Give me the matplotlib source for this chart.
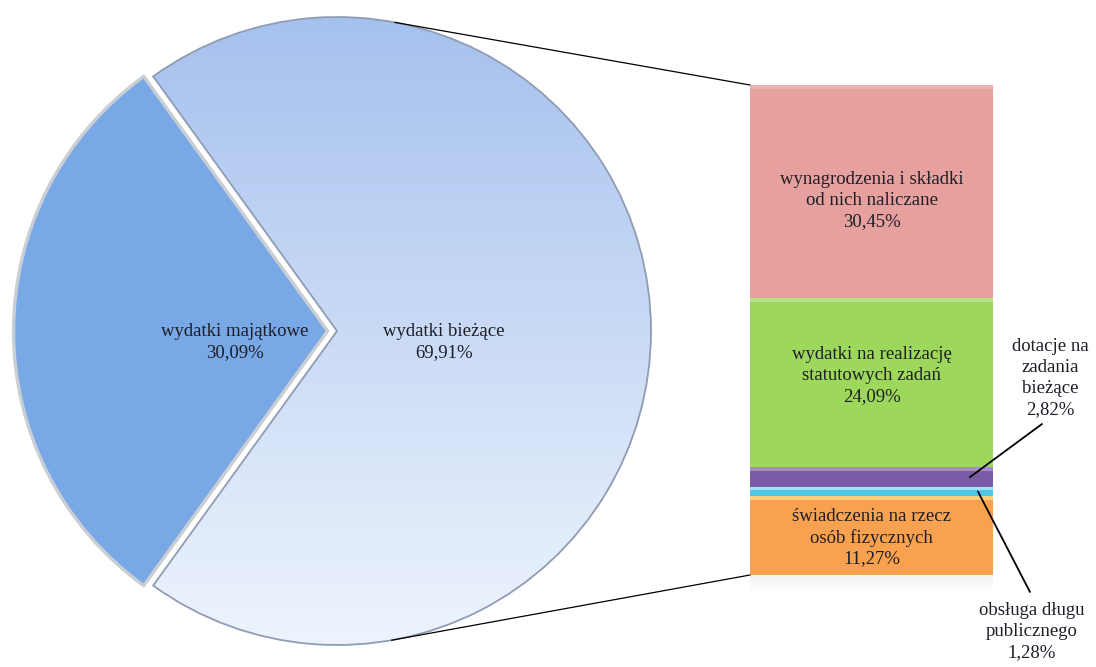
import matplotlib.pyplot as plt
import numpy as np
from matplotlib.colors import to_rgb
from matplotlib.patches import ConnectionPatch

plt.rcParams['font.family'] = ['Liberation Serif', 'DejaVu Serif']

# pie data
pie_labels = ["wydatki majątkowe", "wydatki bieżące"]
pie_values = [30.09, 69.91]

# bar (breakdown of "wydatki bieżące"), bottom to top
bar_labels = ["świadczenia na rzecz\nosób fizycznych",
              "obsługa długu\npublicznego",
              "dotacje na\nzadania\nbieżące",
              "wydatki na realizację\nstatutowych zadań",
              "wynagrodzenia i składki\nod nich naliczane"]
bar_values = [11.27, 1.28, 2.82, 24.09, 30.45]
bar_colors = ["#f8a24f", "#4fc6e6", "#7b5ba8", "#9dd85c", "#e6a19f"]
bevel_colors = ["#fbcf7c", "#9fe3f4", "#a68ad0", "#b5e283", "#eab2b0"]


def pct(v):
    return f"{v:.2f}%".replace(".", ",")


W, H = 1096, 667
fig = plt.figure(figsize=(W / 100, H / 100), dpi=100)
txt_color = "#1e1e28"
fs = 13.5
ls = 1.3

# ---- pie ----
cx, cy, r, half = 337, 331, 314, 330
ax = fig.add_axes([(cx - half) / W, (H - cy - half) / H, 2 * half / W, 2 * half / H])
start = 180 - pie_values[0] / 100 * 180
wedges, _ = ax.pie(pie_values, radius=1, startangle=start, explode=[0.03, 0],
                   colors=["#78a8e6", "#c3d6f5"],
                   wedgeprops=dict(edgecolor="#c9cdd4", linewidth=2.4))
wedges[1].set_edgecolor("#8f9cb3")
wedges[1].set_linewidth(1.3)

# vertical gradient for the big slice
top = np.array(to_rgb("#a6c1ee"))
bot = np.array(to_rgb("#eef4fd"))
t = np.linspace(0, 1, 256)[:, None, None]
grad = top * (1 - t) + bot * t
img = ax.imshow(grad, extent=(-1, 1, -1, 1), origin="upper", aspect="auto", zorder=1.5)
img.set_clip_path(wedges[1])
wedges[1].set_facecolor("none")
wedges[1].set_zorder(2)

lim = half / r
ax.set_xlim(-lim, lim)
ax.set_ylim(-lim, lim)
ax.set_aspect("equal")
ax.axis("off")

ax.text(-0.325, -0.035, pie_labels[0] + "\n" + pct(pie_values[0]), ha="center", va="center",
        fontsize=fs, color=txt_color, linespacing=ls, zorder=5)
ax.text(0.34, -0.035, pie_labels[1] + "\n" + pct(pie_values[1]), ha="center", va="center",
        fontsize=fs, color=txt_color, linespacing=ls, zorder=5)

# ---- stacked bar ----
total = sum(bar_values)
bx0, bx1, by0, by1 = 750, 993, 85, 575
px = total / (by1 - by0)
axb = fig.add_axes([bx0 / W, (H - by1) / H, (bx1 - bx0) / W, (by1 - by0) / H])
bottoms = np.concatenate([[0], np.cumsum(bar_values)[:-1]])

# soft shadow under the bar
for k in range(6):
    axb.bar(0.5, 2.5 * px, width=1.0, bottom=-(k + 1) * 2.5 * px, color="#808080",
            alpha=0.10 * (6 - k) / 6, edgecolor="none", clip_on=False)

axb.bar(0.5, bar_values, width=1, bottom=bottoms, color=bar_colors, edgecolor="none")
for b, v, c in zip(bottoms, bar_values, bevel_colors):
    h = min(4 * px, v * 0.35)
    axb.bar(0.5, h, width=1, bottom=b + v - h, color=c, edgecolor="none")
axb.set_xlim(0, 1)
axb.set_ylim(0, total)
axb.axis("off")

offsets = {0: -2, 3: 7, 4: -9}
for i, off in offsets.items():
    axb.text(0.5, bottoms[i] + bar_values[i] / 2 + off * px,
             bar_labels[i] + "\n" + pct(bar_values[i]),
             ha="center", va="center", fontsize=fs, color=txt_color, linespacing=ls)

# outside labels with leader lines
fig.text(1050 / W, 1 - 378 / H, bar_labels[2] + "\n" + pct(bar_values[2]), ha="center",
         va="center", fontsize=fs, color=txt_color, linespacing=ls)
axb.annotate("", xy=(0.905, bottoms[2] + bar_values[2] / 2), xytext=(1042 / W, 1 - 424 / H),
             textcoords="figure fraction",
             arrowprops=dict(arrowstyle="-", color="black", lw=1.3, shrinkA=0, shrinkB=0))

fig.text(1032 / W, 1 - 602 / H, bar_labels[1] + "\n" + pct(bar_values[1]), ha="center",
         va="top", fontsize=fs, color=txt_color, linespacing=ls)
axb.annotate("", xy=(0.938, bottoms[1] + bar_values[1] / 2), xytext=(1030 / W, 1 - 592 / H),
             textcoords="figure fraction",
             arrowprops=dict(arrowstyle="-", color="black", lw=1.3, shrinkA=0, shrinkB=0))

# connector lines pie -> bar
a1 = np.deg2rad(79.4)
a2 = np.deg2rad(-80)
for ang, yb in [(a1, total), (a2, 0)]:
    con = ConnectionPatch(xyA=(np.cos(ang), np.sin(ang)), coordsA=ax.transData,
                          xyB=(0, yb), coordsB=axb.transData, color="black", lw=0.9)
    fig.add_artist(con)

fig.savefig("out.png", dpi=100, facecolor="white")
